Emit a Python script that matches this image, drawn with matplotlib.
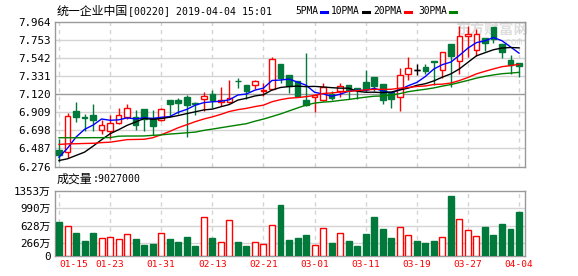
import numpy as np
import matplotlib.pyplot as plt
from matplotlib.lines import Line2D

# ----- data (统一企业中国 00220, daily) -----
dates = ["01-15", "01-16", "01-17", "01-18", "01-21", "01-22", "01-23", "01-24", "01-25", "01-28",
         "01-29", "01-30", "01-31", "02-01", "02-04", "02-08", "02-11", "02-12", "02-13", "02-14",
         "02-15", "02-18", "02-19", "02-20", "02-21", "02-22", "02-25", "02-26", "02-27", "02-28",
         "03-01", "03-04", "03-05", "03-06", "03-07", "03-08", "03-11", "03-12", "03-13", "03-14",
         "03-15", "03-18", "03-19", "03-20", "03-21", "03-22", "03-25", "03-26", "03-27", "03-28",
         "03-29", "04-01", "04-02", "04-03", "04-04"]

opens = [6.463, 6.444, 6.921, 6.856, 6.882, 6.706, 6.686, 6.788, 6.854, 6.854,
         6.952, 6.846, 6.823, 7.057, 7.050, 7.089, 7.018, 7.065, 7.120, 7.030,
         7.030, 7.280, 7.226, 7.233, 7.160, 7.186, 7.472, 7.343, 7.272, 7.057,
         7.089, 7.050, 7.120, 7.159, 7.226, 7.194, 7.265, 7.323, 7.237, 7.147,
         7.089, 7.362, 7.409, 7.433, 7.511, 7.409, 7.706, 7.507, 7.804, 7.636,
         7.772, 7.901, 7.706, 7.519, 7.480]
highs = [6.600, 6.900, 7.030, 6.894, 7.003, 6.815, 6.874, 6.964, 7.010, 6.932,
         6.952, 6.932, 6.964, 7.057, 7.081, 7.108, 7.030, 7.147, 7.167, 7.206,
         7.284, 7.304, 7.226, 7.284, 7.253, 7.550, 7.472, 7.343, 7.272, 7.597,
         7.128, 7.253, 7.159, 7.253, 7.226, 7.194, 7.401, 7.323, 7.237, 7.147,
         7.421, 7.550, 7.479, 7.479, 7.511, 7.608, 7.706, 7.917, 7.917, 7.878,
         7.772, 7.901, 7.706, 7.577, 7.480]
lows = [6.330, 6.380, 6.796, 6.690, 6.690, 6.659, 6.600, 6.768, 6.835, 6.698,
        6.690, 6.639, 6.807, 6.854, 6.886, 6.620, 6.874, 6.925, 6.964, 6.979,
        7.018, 7.198, 7.069, 7.186, 7.100, 7.167, 7.253, 7.136, 7.089, 6.979,
        6.913, 7.042, 7.057, 7.089, 7.069, 7.069, 7.147, 7.155, 7.003, 6.964,
        6.925, 7.284, 7.343, 7.362, 7.226, 7.315, 7.206, 7.354, 7.558, 7.565,
        7.628, 7.714, 7.546, 7.354, 7.323]
closes = [6.405, 6.866, 6.854, 6.848, 6.823, 6.764, 6.788, 6.882, 6.964, 6.764,
          6.827, 6.749, 6.952, 7.003, 7.018, 6.991, 7.003, 7.097, 7.050, 7.050,
          7.081, 7.272, 7.159, 7.272, 7.172, 7.526, 7.304, 7.214, 7.097, 6.991,
          7.108, 7.206, 7.081, 7.214, 7.167, 7.167, 7.186, 7.218, 7.050, 7.061,
          7.350, 7.421, 7.409, 7.393, 7.500, 7.608, 7.569, 7.800, 7.819, 7.819,
          7.714, 7.765, 7.608, 7.460, 7.452]

ma5 = [6.385, 6.490, 6.620, 6.710, 6.760, 6.831, 6.816, 6.821, 6.844, 6.832,
       6.845, 6.837, 6.851, 6.859, 6.910, 6.943, 6.993, 7.022, 7.032, 7.038,
       7.056, 7.111, 7.123, 7.168, 7.192, 7.281, 7.286, 7.297, 7.262, 7.226,
       7.143, 7.123, 7.097, 7.120, 7.155, 7.167, 7.163, 7.190, 7.158, 7.136,
       7.173, 7.220, 7.258, 7.327, 7.415, 7.466, 7.496, 7.574, 7.659, 7.723,
       7.744, 7.783, 7.745, 7.673, 7.600]
ma10 = [6.346, 6.366, 6.405, 6.444, 6.514, 6.589, 6.659, 6.706, 6.757, 6.796,
        6.838, 6.827, 6.836, 6.852, 6.871, 6.894, 6.915, 6.937, 6.946, 6.974,
        7.000, 7.052, 7.073, 7.100, 7.115, 7.169, 7.199, 7.210, 7.215, 7.209,
        7.212, 7.205, 7.197, 7.191, 7.191, 7.155, 7.143, 7.144, 7.139, 7.146,
        7.170, 7.192, 7.224, 7.243, 7.276, 7.320, 7.358, 7.416, 7.493, 7.569,
        7.605, 7.640, 7.660, 7.666, 7.662]
ma20 = [6.534, 6.540, 6.542, 6.545, 6.547, 6.555, 6.560, 6.575, 6.590, 6.592,
        6.594, 6.612, 6.647, 6.686, 6.729, 6.764, 6.800, 6.831, 6.856, 6.885,
        6.919, 6.940, 6.955, 6.976, 6.993, 7.032, 7.057, 7.074, 7.081, 7.092,
        7.106, 7.129, 7.135, 7.146, 7.153, 7.162, 7.171, 7.177, 7.177, 7.178,
        7.191, 7.199, 7.211, 7.217, 7.234, 7.238, 7.251, 7.280, 7.316, 7.358,
        7.388, 7.416, 7.442, 7.455, 7.469]
ma30 = [6.612, 6.612, 6.612, 6.612, 6.613, 6.613, 6.614, 6.630, 6.632, 6.632,
        6.633, 6.640, 6.645, 6.655, 6.662, 6.670, 6.678, 6.698, 6.713, 6.729,
        6.745, 6.761, 6.776, 6.805, 6.830, 6.860, 6.890, 6.925, 6.960, 6.993,
        7.017, 7.028, 7.035, 7.048, 7.059, 7.073, 7.086, 7.097, 7.100, 7.110,
        7.127, 7.150, 7.165, 7.178, 7.194, 7.215, 7.233, 7.257, 7.282, 7.308,
        7.329, 7.346, 7.360, 7.367, 7.376]

# volume in 万 shares
volumes = [707, 618, 478, 310, 478, 370, 389, 347, 451, 347,
           222, 243, 465, 347, 291, 389, 208, 799, 368, 285,
           736, 285, 202, 285, 237, 632, 1055, 327, 368, 431,
           216, 570, 264, 465, 306, 202, 451, 805, 555, 368,
           590, 424, 306, 264, 306, 383, 1248, 757, 528, 403,
           597, 431, 659, 555, 902.7]

price_ticks = [6.276, 6.487, 6.698, 6.909, 7.120, 7.331, 7.542, 7.753, 7.964]
vol_ticks = [0, 266, 628, 990, 1353]
vol_labels = ["0", "266万", "628万", "990万", "1353万"]

ma_names = ["5PMA", "10PMA", "20PMA", "30PMA"]
ma_colors = ["#0000ff", "#000000", "#ff0000", "#008000"]

# ----- setup -----
UP = "#ff0000"
DOWN = "#00793a"
SPINE = "#999999"
GRID = "#d4d4d4"
MONO = ["DejaVu Sans Mono", "Noto Sans CJK SC"]
CJK = ["Noto Sans CJK SC", "DejaVu Sans"]

W, H = 578, 276
fig = plt.figure(figsize=(W / 100, H / 100), dpi=100)
ax = fig.add_axes([55 / W, 1 - 166.5 / H, 470 / W, 144.5 / H])
axv = fig.add_axes([55 / W, 1 - 255.7 / H, 470 / W, 65 / H])

x = np.arange(len(dates))
o = np.array(opens)
c = np.array(closes)
up = c > o
flat = c == o
edge = np.where(up, UP, np.where(flat, "black", DOWN))
face = np.where(up, "white", np.where(flat, "black", DOWN))

# ----- candles -----
ax.vlines(x, lows, highs, colors=edge, lw=1, zorder=2)
ax.bar(x, np.abs(c - o), bottom=np.minimum(o, c), width=0.66,
       color=face, edgecolor=edge, lw=1, zorder=3)
ax.hlines(c[flat], x[flat] - 0.33, x[flat] + 0.33, colors="black", lw=1, zorder=3)

for vals, col in zip([ma5, ma10, ma20, ma30], ma_colors):
    ax.plot(x, vals, color=col, lw=1, zorder=4)

ax.set_xlim(-0.47, len(dates) - 0.3)
ax.set_ylim(price_ticks[0], price_ticks[-1])
ax.set_yticks(price_ticks)
ax.set_yticklabels([f"{t:.3f}" for t in price_ticks], family=MONO, fontsize=7.8)
ax.set_xticks([])
for t in price_ticks[1:-1]:
    ax.axhline(t, color=SPINE if t == 7.120 else GRID, lw=1, zorder=1)

# watermark
ax.text(0.851, 0.945, "东方财富网", transform=ax.transAxes, family=CJK, fontsize=10.5,
        fontweight="bold", color="#dedede", va="center", ha="left", zorder=0.5)
ax.text(0.995, 0.86, ".com", transform=ax.transAxes, family=MONO, fontsize=7,
        color="#dedede", va="center", ha="right", zorder=0.5)

# ----- volume -----
vcol = np.where(up, UP, DOWN)
vface = np.where(up, "white", DOWN)
axv.bar(x, volumes, width=0.7, color=vface, edgecolor=vcol, lw=1, zorder=3)
axv.set_xlim(ax.get_xlim())
axv.set_ylim(0, vol_ticks[-1])
axv.set_yticks(vol_ticks)
axv.set_yticklabels(vol_labels, family=MONO, fontsize=7.8)
for t in vol_ticks[1:-1]:
    axv.axhline(t, color=GRID, lw=1, zorder=1)

axv.set_xticks(x[::6])
axv.set_xticklabels(dates[::6], family=MONO, fontsize=6.8, color=UP)
axv.get_xticklabels()[0].set_ha("left")

for a in (ax, axv):
    for i in x[::6]:
        a.axvline(i, color=GRID, lw=1, ls=(0, (3, 3)), zorder=1)
    for s in a.spines.values():
        s.set_color(SPINE)
        s.set_linewidth(1)
    a.tick_params(length=0, pad=3)

# ----- header texts -----
fig.text(57 / W, 1 - 11 / H, "统一企业中国", family=CJK, fontsize=8.6, va="center")
fig.text(128 / W, 1 - 11 / H, "[00220] 2019-04-04 15:01", family=MONO, fontsize=7.1, va="center")

leg_x = [295, 331, 373, 418]
for name, col, lx in zip(ma_names, ma_colors, leg_x):
    t = fig.text(lx / W, 1 - 11 / H, name, family=MONO, fontsize=6.9, va="center")
    n = len(name)
    x0 = lx + n * 5.8 + 3
    fig.add_artist(Line2D([x0 / W, (x0 + 6) / W], [1 - 11.5 / H, 1 - 11.5 / H],
                          color=col, lw=2.2, transform=fig.transFigure))

fig.text(57 / W, 1 - 179 / H, "成交量", family=CJK, fontsize=8.6, va="center")
fig.text(93 / W, 1 - 179 / H, ":9027000", family=MONO, fontsize=7.1, va="center")

fig.savefig("out.png", dpi=100)
